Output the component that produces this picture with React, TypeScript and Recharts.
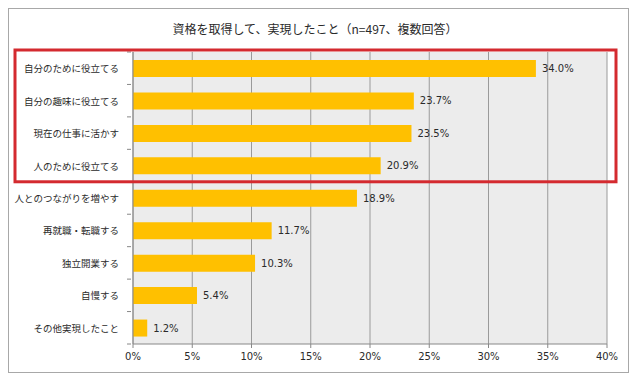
import React from 'react';
import { BarChart, Bar, XAxis, YAxis, CartesianGrid, LabelList } from 'recharts';

const categories = [
  '自分のために役立てる',
  '自分の趣味に役立てる',
  '現在の仕事に活かす',
  '人のために役立てる',
  '人とのつながりを増やす',
  '再就職・転職する',
  '独立開業する',
  '自慢する',
  'その他実現したこと',
];
const values = [34.0, 23.7, 23.5, 20.9, 18.9, 11.7, 10.3, 5.4, 1.2];
const xTicks = [0, 5, 10, 15, 20, 25, 30, 35, 40];
const title = '資格を取得して、実現したこと（n=497、複数回答）';
const highlightedCount = 4;

const data = categories.map((name, i) => ({ name, value: values[i] }));

const W = 640;
const H = 384;
const xAxisHeight = 40;
const margin = { top: 52, right: 33, bottom: 0, left: 0 };
const yAxisWidth = 133;
const plotTop = margin.top;
const plotH = H - margin.top - margin.bottom - xAxisHeight;

const JP = "'Noto Sans CJK JP', 'Noto Sans', sans-serif";
const NUM = "'DejaVu Sans', Verdana, sans-serif";

const YTick = (props: any) => {
  const { x, y, payload, index } = props;
  const off = payload && payload.offset ? payload.offset : plotH / categories.length / 2;
  const ax = x + (props.tickSize ?? 0);
  return (
    <g>
      <line x1={ax - 4} x2={ax} y1={y - off} y2={y - off} stroke="#888" />
      {index === categories.length - 1 && (
        <line x1={ax - 4} x2={ax} y1={y + off} y2={y + off} stroke="#888" />
      )}
      <text x={ax - 12} y={y} textAnchor="end" dominantBaseline="central" fontSize={9.5} fontFamily={JP} fill="#2a2a2a">
        {payload.value}
      </text>
    </g>
  );
};

export default function App() {
  const boxBottom = plotTop + (plotH * highlightedCount) / categories.length;
  return (
    <div style={{ position: 'absolute', left: 0, top: 0, width: W, height: H, background: '#fff' }}>
      <svg width={W} height={H} style={{ position: 'absolute', left: 0, top: 0 }}>
        <rect x={8.5} y={8.5} width={620} height={364} fill="#fff" stroke="#a8a8a8" />
      </svg>
      <div style={{ position: 'absolute', left: 0, top: 0 }}>
        <BarChart width={W} height={H} data={data} layout="vertical" margin={margin}>
          <CartesianGrid horizontal={false} vertical stroke="#9a9a9a" fill="#ececec" />
          <XAxis
            type="number"
            domain={[0, 40]}
            ticks={xTicks}
            tickFormatter={(v: number) => `${v}%`}
            tick={{ fontSize: 10, fontFamily: NUM, fill: '#2a2a2a' }}
            axisLine={{ stroke: '#888' }}
            tickLine={{ stroke: '#888' }}
            tickSize={4}
            tickMargin={5}
            height={xAxisHeight}
          />
          <YAxis
            type="category"
            dataKey="name"
            width={yAxisWidth}
            axisLine={{ stroke: '#888' }}
            tickLine={false}
            tickSize={0}
            tick={<YTick />}
            interval={0}
          />
          <Bar dataKey="value" fill="#FFC000" barSize={17} isAnimationActive={false}>
            <LabelList
              dataKey="value"
              position="right"
              offset={6}
              formatter={(v: number) => `${Number(v).toFixed(1)}%`}
              style={{ fontSize: 10, fontFamily: NUM, fill: '#2a2a2a' }}
            />
          </Bar>
        </BarChart>
      </div>
      <svg width={W} height={H} style={{ position: 'absolute', left: 0, top: 0, pointerEvents: 'none' }}>
        <text x={315} y={28} textAnchor="middle" dominantBaseline="central" fontSize={12} fontFamily={JP} fill="#2a2a2a">
          {title}
        </text>
        <rect x={15} y={50} width={601} height={boxBottom - 50} fill="none" stroke="#d42a2f" strokeWidth={3} />
      </svg>
    </div>
  );
}
